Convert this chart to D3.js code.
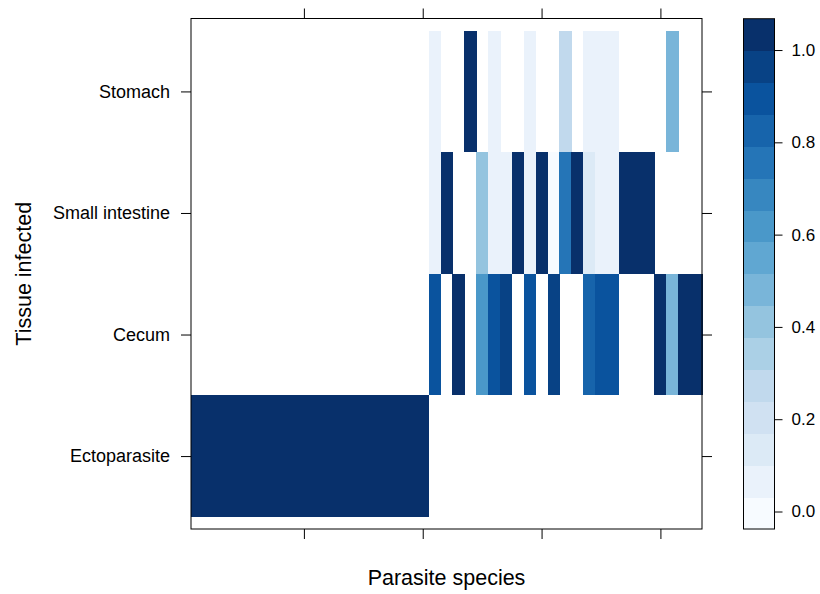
<!DOCTYPE html>
<html>
<head>
<meta charset="utf-8">
<script src="https://cdn.jsdelivr.net/npm/d3@7"></script>
<style>
  body { margin: 0; background: #fff; }
  svg text { font-family: "Liberation Sans", Arial, Helvetica, sans-serif; fill: #000; }
</style>
</head>
<body>
<div class="root"></div>
<script>
// tissues, bottom to top
var tissues = ['Ectoparasite', 'Cecum', 'Small intestine', 'Stomach'];

// 43 parasite species (no labels shown on the axis)
var species = d3.range(1, 44);

// proportion per species, null = not recorded
var ectoparasite = [1,1,1,1,1,1,1,1,1,1,1,1,1,1,1,1,1,1,1,1,
  null,null,null,null,null,null,null,null,null,null,null,null,null,null,null,null,null,null,null,null,null,null,null];
var cecum = [null,null,null,null,null,null,null,null,null,null,null,null,null,null,null,null,null,null,null,null,
  0.9,null,1,null,0.6,0.9,0.95,null,0.9,null,0.95,null,null,0.8,0.9,0.9,null,null,null,1,0.5,1,1];
var smallIntestine = [null,null,null,null,null,null,null,null,null,null,null,null,null,null,null,null,null,null,null,null,
  0.06,1,null,null,0.4,0.06,0.06,1,0.06,1,0.03,0.75,1,0.14,0.06,0.06,1,1,1,null,null,null,null];
var stomach = [null,null,null,null,null,null,null,null,null,null,null,null,null,null,null,null,null,null,null,null,
  0.06,null,null,1,null,0.06,null,null,0.06,null,null,0.25,null,0.06,0.06,0.06,null,null,null,null,0.5,null,null];

var xTicks = [10, 20, 30, 40];
var keyTicks = [0, 0.2, 0.4, 0.6, 0.8, 1.0];

function draw() {
  var w = 820, h = 594;
  var rows = [ectoparasite, cecum, smallIntestine, stomach];

  var cells = [];
  rows.forEach(function(vals, r) {
    vals.forEach(function(v, i) {
      if (v !== null) cells.push({ sp: species[i], row: r + 1, value: v });
    });
  });

  // lattice style breaks: range extended by 7%, 16 bands
  var ext = d3.extent(cells, function(d) { return d.value; });
  var pad = (ext[1] - ext[0]) * 0.07;
  var lo = ext[0] - pad, hi = ext[1] + pad;
  var nBands = 16;
  var breaks = d3.range(nBands + 1).map(function(k) { return lo + k * (hi - lo) / nBands; });
  var ramp = d3.piecewise(d3.interpolateRgb, d3.schemeBlues[9]);
  var bandColors = d3.range(nBands).map(function(k) { return ramp(k / (nBands - 1)); });
  var color = d3.scaleThreshold().domain(breaks.slice(1, -1)).range(bandColors);

  var svg = d3.select('.root').append('svg')
    .attr('width', w)
    .attr('height', h);

  var left = 191, right = 702, top = 18.5, bottom = 529;

  var x = d3.scaleLinear().domain([0.5, 43.5]).range([left, right]);
  var y = d3.scaleLinear().domain([0.4, 4.6]).range([bottom, top]);

  svg.append('g')
    .attr('shape-rendering', 'crispEdges')
    .selectAll('rect')
    .data(cells)
    .enter().append('rect')
      .attr('x', function(d) { return x(d.sp - 0.5); })
      .attr('width', function(d) { return x(d.sp + 0.5) - x(d.sp - 0.5) + 0.6; })
      .attr('y', function(d) { return y(d.row + 0.5); })
      .attr('height', function(d) { return y(d.row - 0.5) - y(d.row + 0.5); })
      .attr('fill', function(d) { return color(d.value); });

  function styleAxis(size) {
    return function(g) {
      g.select('.domain').remove();
      g.selectAll('line').attr('stroke', '#000');
      g.selectAll('text').style('font-size', size + 'px').attr('fill', '#000');
    };
  }

  svg.append('g')
    .attr('transform', 'translate(0,' + bottom + ')')
    .call(d3.axisBottom(x).tickValues(xTicks).tickFormat('').tickSize(10).tickSizeOuter(0))
    .call(styleAxis(18));
  svg.append('g')
    .attr('transform', 'translate(0,' + top + ')')
    .call(d3.axisTop(x).tickValues(xTicks).tickFormat('').tickSize(10).tickSizeOuter(0))
    .call(styleAxis(18));
  svg.append('g')
    .attr('transform', 'translate(' + left + ',0)')
    .call(d3.axisLeft(y).tickValues([1, 2, 3, 4])
      .tickFormat(function(d) { return tissues[d - 1]; })
      .tickSize(10).tickPadding(11).tickSizeOuter(0))
    .call(styleAxis(18));
  svg.append('g')
    .attr('transform', 'translate(' + right + ',0)')
    .call(d3.axisRight(y).tickValues([1, 2, 3, 4]).tickFormat('').tickSize(10).tickSizeOuter(0))
    .call(styleAxis(18));

  svg.append('rect')
    .attr('x', left)
    .attr('y', top)
    .attr('width', right - left)
    .attr('height', bottom - top)
    .attr('fill', 'none')
    .attr('stroke', '#000')
    .attr('stroke-width', 1);

  svg.append('text')
    .attr('x', (left + right) / 2)
    .attr('y', 585)
    .attr('text-anchor', 'middle')
    .style('font-size', '21.5px')
    .text('Parasite species');

  svg.append('text')
    .attr('transform', 'translate(31,' + ((top + bottom) / 2) + ') rotate(-90)')
    .attr('text-anchor', 'middle')
    .style('font-size', '21.5px')
    .text('Tissue infected');

  // colour key
  var kx = 743.5, kw = 31;
  var ky = d3.scaleLinear().domain([lo, hi]).range([bottom, 18.7]);

  svg.append('g')
    .attr('shape-rendering', 'crispEdges')
    .selectAll('rect')
    .data(bandColors)
    .enter().append('rect')
      .attr('x', kx)
      .attr('width', kw)
      .attr('y', function(d, k) { return ky(breaks[k + 1]); })
      .attr('height', function(d, k) { return ky(breaks[k]) - ky(breaks[k + 1]) + 0.5; })
      .attr('fill', function(d) { return d; });

  svg.append('rect')
    .attr('x', kx)
    .attr('y', ky(hi))
    .attr('width', kw)
    .attr('height', ky(lo) - ky(hi))
    .attr('fill', 'none')
    .attr('stroke', '#000');

  svg.append('g')
    .attr('transform', 'translate(' + (kx + kw) + ',0)')
    .call(d3.axisRight(ky).tickValues(keyTicks).tickFormat(d3.format('.1f')).tickSize(8).tickPadding(9).tickSizeOuter(0))
    .call(styleAxis(17));
}

window.onload = function() {
  draw();
}
</script>
</body>
</html>
